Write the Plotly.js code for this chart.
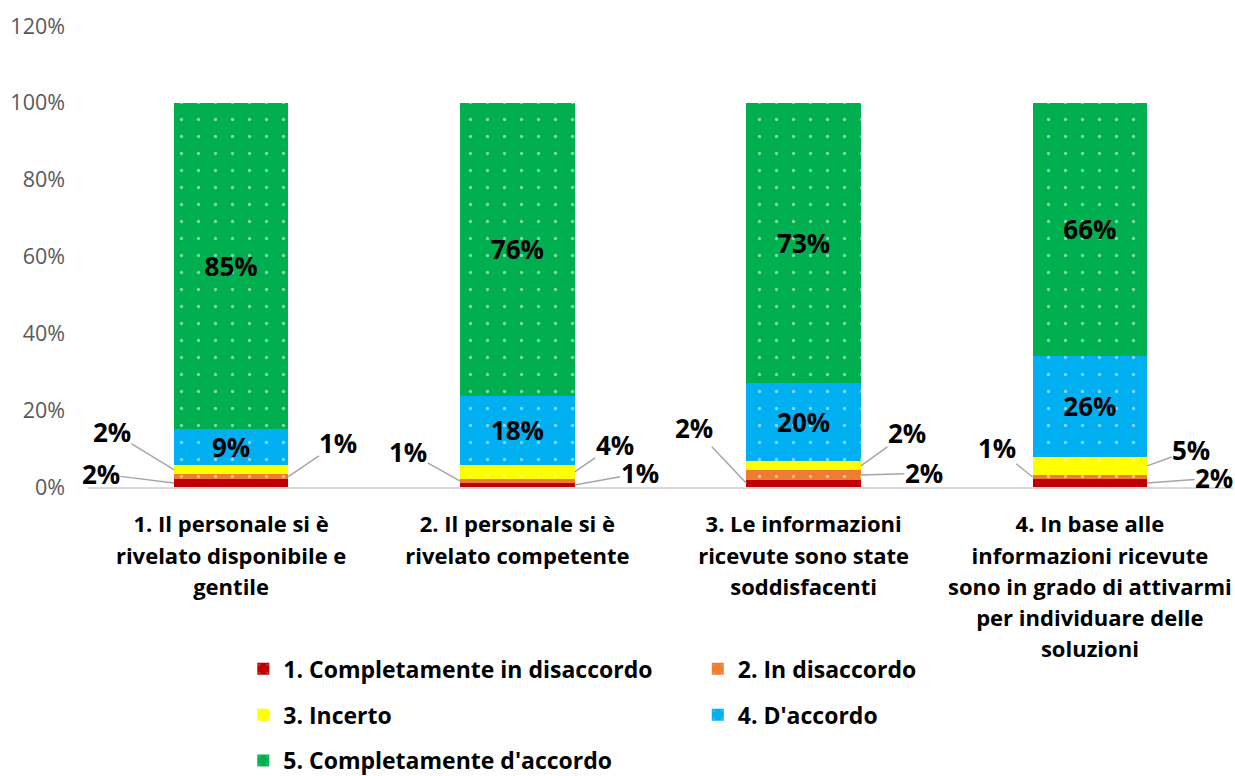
<!DOCTYPE html>
<html>
<head>
<meta charset="utf-8">
<script src="https://cdn.plot.ly/plotly-3.0.1.min.js"></script>
<style>html,body{margin:0;padding:0;background:#fff;}#chart{width:1235px;height:776px;}</style>
</head>
<body>
<div id="chart"></div>
<script>
// ---- DATA ----
const categories = [
  "1. Il personale si è<br>rivelato disponibile e<br>gentile",
  "2. Il personale si è<br>rivelato competente",
  "3. Le informazioni<br>ricevute sono state<br>soddisfacenti",
  "4. In base alle<br>informazioni ricevute<br>sono in grado di attivarmi<br>per individuare delle<br>soluzioni"
];
const seriesNames = [
  "1. Completamente in disaccordo",
  "2. In disaccordo",
  "3. Incerto",
  "4. D'accordo",
  "5. Completamente d'accordo"
];
const completamenteDisaccordo = [0.021, 0.010, 0.019, 0.021];
const inDisaccordo            = [0.012, 0.011, 0.024, 0.010];
const incerto                 = [0.024, 0.037, 0.024, 0.048];
const dAccordo                = [0.094, 0.180, 0.204, 0.262];
const completamenteAccordo    = [0.849, 0.762, 0.729, 0.659];
const yTickVals = [0, 0.2, 0.4, 0.6, 0.8, 1.0, 1.2];

// ---- STYLE ----
const colors = ["#C00000", "#ED7D31", "#FFFF00", "#00B0F0", "#00B050"];
const FONT = "'Open Sans', Lato, sans-serif";
const barWidth = 0.4;
// outside label placement: [seriesIndex, categoryIndex, side(-1 left/+1 right), ax, ay] (pixels)
const outsideLabels = [
  [0, 0, -1, -73, -9], [1, 0, 1, 50, -34], [2, 0, -1, -62, -38],
  [1, 1, -1, -52, -29], [2, 1, 1, 40, -27], [0, 1, 1, 65, -12],
  [0, 2, -1, -52, -55], [2, 2, 1, 46, -33], [1, 2, 1, 63, -2],
  [1, 3, -1, -36, -29], [2, 3, 1, 44, -16], [0, 3, 1, 67, -5]
];
const legendPos = [[0.197, 0.138], [0.565, 0.138], [0.197, 0.079], [0.565, 0.079], [0.197, 0.020]];

const allSeries = [completamenteDisaccordo, inDisaccordo, incerto, dAccordo, completamenteAccordo];
const xIdx = categories.map((c, i) => i);

const traces = allSeries.map((vals, s) => ({
  type: "bar",
  name: seriesNames[s],
  x: xIdx,
  y: vals,
  width: barWidth,
  legend: s === 0 ? "legend" : "legend" + (s + 1),
  marker: {
    color: colors[s],
    line: {width: 0},
    pattern: {shape: ".", fgcolor: "#FFFFFF", bgcolor: colors[s], size: 17, solidity: 0.03, fillmode: "overlay"}
  },
  texttemplate: s >= 3 ? "%{y:.0%}" : "",
  textposition: s >= 3 ? "inside" : "none",
  insidetextanchor: "middle",
  textangle: 0,
  constraintext: "none",
  textfont: {family: FONT, size: 26, color: "#000000", weight: "bold"},
  hoverinfo: "name+y"
}));

const annotations = outsideLabels.map(([s, c, side, ax, ay]) => {
  let base = 0;
  for (let k = 0; k < s; k++) base += allSeries[k][c];
  const v = allSeries[s][c];
  return {
    x: c + side * barWidth / 2, y: base + v / 2, xref: "x", yref: "y",
    text: Math.round(v * 100) + "%",
    showarrow: true, arrowhead: 0, arrowwidth: 1.5, arrowcolor: "#A6A6A6", standoff: 0,
    ax: ax, ay: ay, borderpad: 0,
    font: {family: FONT, size: 26, color: "#000000", weight: "bold"}
  };
});

const ticktext = categories.map(c => c.split("<br>").map(l => '<span style="font-size:22px">' + l + '</span>').join("<br>"));

const layout = {
  width: 1235, height: 776,
  margin: {l: 88, r: 2, t: 26, b: 289, autoexpand: false},
  paper_bgcolor: "#FFFFFF", plot_bgcolor: "#FFFFFF",
  barmode: "stack",
  showlegend: true,
  font: {family: FONT},
  xaxis: {
    type: "linear", range: [-0.5, 3.5],
    tickmode: "array", tickvals: xIdx, ticktext: ticktext,
    tickfont: {family: FONT, size: 24, color: "#000000", weight: "bold"},
    tickangle: 0, automargin: false,
    ticks: "", ticklabelstandoff: 15,
    showgrid: false, zeroline: false,
    showline: true, linecolor: "#D9D9D9", linewidth: 1.5,
    fixedrange: true
  },
  yaxis: {
    range: [0, 1.2], tickmode: "array", tickvals: yTickVals, tickformat: ".0%",
    tickfont: {family: FONT, size: 21.5, color: "#595959"},
    showgrid: false, zeroline: false, showline: false, automargin: false,
    ticks: "", ticklabelstandoff: 22, fixedrange: true
  },
  annotations: annotations
};
legendPos.forEach((p, i) => {
  layout[i === 0 ? "legend" : "legend" + (i + 1)] = {
    x: p[0], y: p[1], xref: "container", yref: "container",
    xanchor: "left", yanchor: "middle", bgcolor: "rgba(0,0,0,0)",
    font: {family: FONT, size: 23, color: "#000000", weight: "bold"},
    itemclick: false, itemdoubleclick: false
  };
});

Plotly.newPlot("chart", traces, layout, {displayModeBar: false, staticPlot: true});
</script>
</body>
</html>
